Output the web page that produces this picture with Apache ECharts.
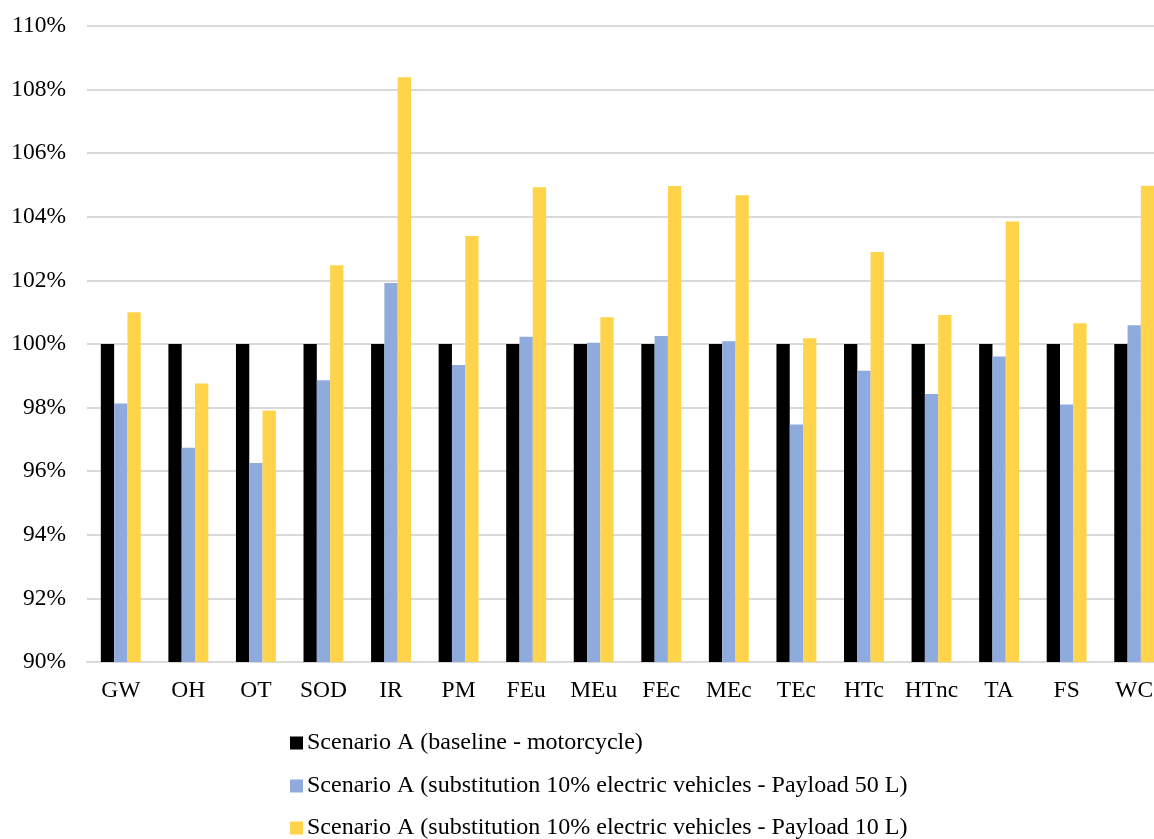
<!DOCTYPE html>
<html>
<head>
<meta charset="utf-8">
<style>
  html, body { margin: 0; padding: 0; background: #ffffff; overflow: hidden; }
  #chart { width: 1170px; height: 839px; }
</style>
<script src="https://cdn.jsdelivr.net/npm/echarts@6/dist/echarts.min.js"></script>
</head>
<body>
<div id="chart"></div>
<script>
// Impact categories on the horizontal axis
const categories = ['GW', 'OH', 'OT', 'SOD', 'IR', 'PM', 'FEu', 'MEu', 'FEc', 'MEc', 'TEc', 'HTc', 'HTnc', 'TA', 'FS', 'WC'];

// Relative impacts (% of the baseline)
const baseline = [100, 100, 100, 100, 100, 100, 100, 100, 100, 100, 100, 100, 100, 100, 100, 100];
const payload50 = [98.13, 96.74, 96.26, 98.86, 101.92, 99.34, 100.23, 100.04, 100.25, 100.09, 97.47, 99.16, 98.43, 99.61, 98.10, 100.59];
const payload10 = [101.0, 98.76, 97.91, 102.48, 108.39, 103.4, 104.93, 100.84, 104.97, 104.68, 100.18, 102.89, 100.91, 103.85, 100.65, 104.98];

const seriesNames = [
  'Scenario A (baseline - motorcycle)',
  'Scenario A (substitution 10% electric vehicles - Payload 50 L)',
  'Scenario A (substitution 10% electric vehicles - Payload 10 L)'
];
const seriesColors = ['#000000', '#8FAADC', '#FFD44A'];

const font = '"Liberation Serif", "Times New Roman", serif';
const chart = echarts.init(document.getElementById('chart'));

// One legend block per series, stacked under the plot
const legendTops = [731, 774, 816];
const legends = seriesNames.map((name, i) => ({
  orient: 'vertical',
  left: 290,
  top: legendTops[i],
  padding: 0,
  itemWidth: 13,
  itemHeight: 13,
  icon: 'rect',
  textStyle: { fontFamily: font, fontSize: 24, color: '#000000', padding: [0, 0, 0, -1] },
  data: [name]
}));

chart.setOption({
  animation: false,
  backgroundColor: '#ffffff',
  grid: { left: 87, right: 2, top: 26, bottom: 177, containLabel: false },
  legend: legends,
  xAxis: {
    type: 'category',
    data: categories,
    axisLine: { lineStyle: { color: '#d9d9d9', width: 2 } },
    axisTick: { show: false },
    axisLabel: { fontFamily: font, fontSize: 23.5, color: '#000000', margin: 17, interval: 0 }
  },
  yAxis: {
    type: 'value',
    min: 90,
    max: 110,
    interval: 2,
    axisLine: { show: false },
    axisTick: { show: false },
    splitLine: { lineStyle: { color: '#d9d9d9', width: 2 } },
    axisLabel: {
      fontFamily: font, fontSize: 23.5, color: '#000000', margin: 21,
      formatter: v => v + '%'
    }
  },
  series: [
    { name: seriesNames[0], type: 'bar', data: baseline, barWidth: 13.3, barGap: '0%',
      itemStyle: { color: seriesColors[0] } },
    { name: seriesNames[1], type: 'bar', data: payload50, barWidth: 13.3, barGap: '0%',
      itemStyle: { color: seriesColors[1] } },
    { name: seriesNames[2], type: 'bar', data: payload10, barWidth: 13.3, barGap: '0%',
      itemStyle: { color: seriesColors[2] } }
  ]
});
</script>
</body>
</html>
